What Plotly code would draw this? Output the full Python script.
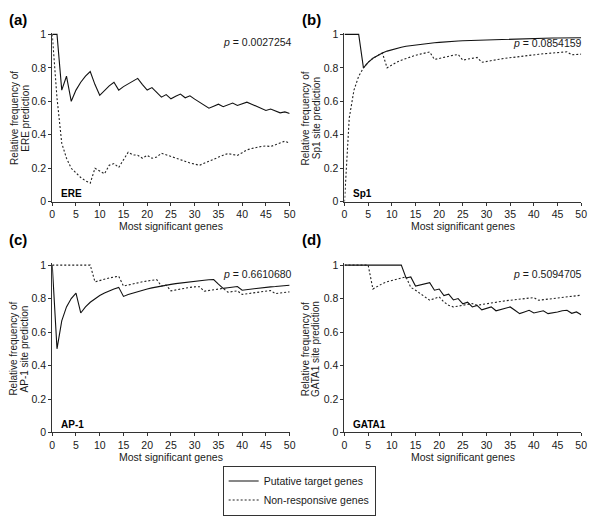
import plotly.graph_objects as go

# ---------------- data ----------------
GENES = [0, 1, 2, 3, 4, 5, 6, 7, 8, 9, 10, 11, 12, 13, 14, 15, 16, 17, 18, 19, 20,
         21, 22, 23, 24, 25, 26, 27, 28, 29, 30, 31, 32, 33, 34, 35, 36, 37, 38, 39, 40,
         41, 42, 43, 44, 45, 46, 47, 48, 49, 50]

ERE_PUTATIVE = [1, 1, 0.667, 0.75, 0.6, 0.667, 0.714, 0.75, 0.778, 0.7, 0.636,
                0.667, 0.692, 0.714, 0.667, 0.688, 0.706, 0.722, 0.737, 0.7, 0.667,
                0.682, 0.652, 0.625, 0.64, 0.615, 0.63, 0.643, 0.621, 0.633, 0.613,
                0.594, 0.576, 0.559, 0.571, 0.583, 0.568, 0.579, 0.59, 0.575, 0.585,
                0.595, 0.583, 0.57, 0.557, 0.545, 0.554, 0.542, 0.531, 0.537, 0.527]
ERE_NONRESP = [1, 0.62, 0.35, 0.26, 0.2, 0.17, 0.145, 0.125, 0.111, 0.2, 0.182,
               0.167, 0.218, 0.228, 0.205, 0.25, 0.296, 0.28, 0.278, 0.26, 0.277,
               0.26, 0.267, 0.29, 0.28, 0.27, 0.26, 0.25, 0.24, 0.232, 0.225,
               0.218, 0.23, 0.242, 0.255, 0.27, 0.278, 0.288, 0.283, 0.277, 0.293,
               0.31, 0.318, 0.325, 0.33, 0.333, 0.33, 0.34, 0.35, 0.362, 0.351]

SP1_PUTATIVE = [1, 1, 1, 1, 0.8, 0.833, 0.857, 0.875, 0.889, 0.9, 0.909,
                0.917, 0.923, 0.929, 0.933, 0.938, 0.941, 0.944, 0.947, 0.95, 0.952,
                0.955, 0.957, 0.958, 0.96, 0.962, 0.963, 0.964, 0.966, 0.967, 0.968,
                0.969, 0.97, 0.971, 0.971, 0.972, 0.973, 0.974, 0.974, 0.975, 0.976,
                0.976, 0.977, 0.977, 0.978, 0.978, 0.979, 0.979, 0.98, 0.98, 0.98]
SP1_NONRESP = [0, 0.5, 0.667, 0.75, 0.8, 0.833, 0.857, 0.875, 0.889, 0.8, 0.818,
               0.833, 0.846, 0.857, 0.867, 0.875, 0.882, 0.889, 0.895, 0.85, 0.857,
               0.864, 0.87, 0.875, 0.88, 0.846, 0.852, 0.857, 0.862, 0.833, 0.839,
               0.844, 0.848, 0.853, 0.857, 0.861, 0.865, 0.868, 0.872, 0.875, 0.878,
               0.881, 0.884, 0.886, 0.889, 0.891, 0.894, 0.896, 0.878, 0.88, 0.882]

AP1_PUTATIVE = [1, 0.5, 0.667, 0.75, 0.8, 0.833, 0.714, 0.75, 0.778, 0.8, 0.818,
                0.833, 0.846, 0.857, 0.867, 0.813, 0.824, 0.833, 0.842, 0.85, 0.857,
                0.864, 0.87, 0.875, 0.88, 0.885, 0.889, 0.893, 0.897, 0.9, 0.903,
                0.906, 0.909, 0.912, 0.914, 0.886, 0.861, 0.865, 0.868, 0.872, 0.85,
                0.854, 0.857, 0.86, 0.864, 0.867, 0.87, 0.872, 0.875, 0.878, 0.88]
AP1_NONRESP = [1, 1, 1, 1, 1, 1, 1, 1, 1, 0.9, 0.909,
               0.917, 0.923, 0.929, 0.933, 0.875, 0.882, 0.889, 0.895, 0.9, 0.905,
               0.909, 0.913, 0.875, 0.88, 0.846, 0.852, 0.857, 0.862, 0.867, 0.87,
               0.871, 0.844, 0.848, 0.853, 0.857, 0.861, 0.838, 0.842, 0.846, 0.825,
               0.829, 0.833, 0.837, 0.841, 0.844, 0.848, 0.83, 0.833, 0.837, 0.84]

GATA1_PUTATIVE = [1, 1, 1, 1, 1, 1, 1, 1, 1, 1, 1,
                  1, 1, 0.923, 0.929, 0.875, 0.882, 0.889, 0.895, 0.85, 0.857,
                  0.818, 0.826, 0.792, 0.8, 0.769, 0.778, 0.75, 0.759, 0.733, 0.742,
                  0.75, 0.727, 0.735, 0.743, 0.75, 0.73, 0.71, 0.72, 0.73, 0.714,
                  0.72, 0.727, 0.71, 0.714, 0.72, 0.727, 0.73, 0.712, 0.72, 0.703]
GATA1_NONRESP = [1, 1, 1, 1, 1, 1, 0.857, 0.875, 0.889, 0.9, 0.909,
                 0.917, 0.923, 0.929, 0.867, 0.85, 0.83, 0.81, 0.79, 0.8, 0.81,
                 0.78, 0.76, 0.75, 0.756, 0.76, 0.765, 0.77, 0.76, 0.765, 0.77,
                 0.775, 0.78, 0.783, 0.787, 0.79, 0.793, 0.796, 0.8, 0.803, 0.806,
                 0.79, 0.793, 0.796, 0.8, 0.803, 0.806, 0.81, 0.812, 0.815, 0.82]

PANEL_LETTERS = ["(a)", "(b)", "(c)", "(d)"]
FACTORS = ["ERE", "Sp1", "AP-1", "GATA1"]
YTITLE_LINE2 = ["ERE prediction", "Sp1 site prediction",
                "AP-1 site prediction", "GATA1 site prediction"]
P_VALUES = ["0.0027254", "0.0854159", "0.6610680", "0.5094705"]
SERIES_NAMES = ["Putative target genes", "Non-responsive genes"]
X_TICKS = [0, 5, 10, 15, 20, 25, 30, 35, 40, 45, 50]
Y_TICKS = [0, 0.2, 0.4, 0.6, 0.8, 1]

PUTATIVE = [ERE_PUTATIVE, SP1_PUTATIVE, AP1_PUTATIVE, GATA1_PUTATIVE]
NONRESP = [ERE_NONRESP, SP1_NONRESP, AP1_NONRESP, GATA1_NONRESP]

# ---------------- layout helpers ----------------
W, H = 600, 521
FONT = "Liberation Sans, Arial, Helvetica, sans-serif"
INK = "#1a1a1a"

def px(x):
    return x / W

def py(y):
    return 1 - y / H

# panel geometry in pixels: (x0, x50, y0_pix, y1_pix)
PANELS = [
    (50, 291, 201, 30),
    (346.7, 587, 201, 30),
    (50, 291, 436.7, 265.7),
    (346.7, 587, 436.7, 265.7),
]
YMAX = 1.01

fig = go.Figure()
layout = dict(
    width=W, height=H,
    margin=dict(l=0, r=0, t=0, b=0),
    paper_bgcolor="white", plot_bgcolor="white",
    font=dict(family=FONT, size=10.5, color=INK),
    showlegend=True,
    legend=dict(
        x=px(223), y=py(496), xanchor="left", yanchor="middle",
        bordercolor="#333", borderwidth=1, bgcolor="white",
        font=dict(size=10.5, family=FONT, color=INK),
        tracegroupgap=0, itemwidth=30,
    ),
)

annotations = []
for i in range(4):
    x0p, x50p, y0p, y1p = PANELS[i]
    unit = (y0p - y1p)
    ytop = y0p - unit * YMAX
    sfx = "" if i == 0 else str(i + 1)
    layout["xaxis" + sfx] = dict(
        domain=[px(x0p), px(x50p)], range=[0, 50], anchor="y" + sfx,
        showline=True, linecolor="#333", linewidth=1,
        ticks="outside", ticklen=3, tickcolor="#333", tickwidth=1,
        tickvals=X_TICKS, showgrid=False, zeroline=False,
        tickfont=dict(size=10.5, family=FONT, color=INK),
    )
    layout["yaxis" + sfx] = dict(
        domain=[py(y0p), py(ytop)], range=[0, YMAX], anchor="x" + sfx,
        showline=True, linecolor="#333", linewidth=1,
        ticks="outside", ticklen=3, tickcolor="#333", tickwidth=1,
        tickvals=Y_TICKS, ticktext=["0", "0.2", "0.4", "0.6", "0.8", "1"],
        showgrid=False, zeroline=False,
        tickfont=dict(size=10.5, family=FONT, color=INK),
    )

    fig.add_trace(go.Scatter(
        x=GENES, y=PUTATIVE[i], mode="lines", name=SERIES_NAMES[0],
        line=dict(color="#111", width=1.1), legendgroup="put",
        showlegend=(i == 0), xaxis="x" + sfx, yaxis="y" + sfx,
    ))
    fig.add_trace(go.Scatter(
        x=GENES, y=NONRESP[i], mode="lines", name=SERIES_NAMES[1],
        line=dict(color="#222", width=1.1, dash="2px,2px"), legendgroup="non",
        showlegend=(i == 0), xaxis="x" + sfx, yaxis="y" + sfx,
    ))

    left_col = (i % 2 == 0)
    # panel letter
    annotations.append(dict(
        text="<b>%s</b>" % PANEL_LETTERS[i], xref="paper", yref="paper",
        x=px(4 if left_col else 302), y=py(15 if i < 2 else 240),
        xanchor="left", yanchor="middle", showarrow=False,
        font=dict(size=15, family=FONT, color="#000"),
    ))
    # p value
    annotations.append(dict(
        text="<i>p</i> = %s" % P_VALUES[i], xref="paper", yref="paper",
        x=px(295 if left_col else 590),
        y=py((38 if i == 0 else 39) if i < 2 else 275),
        xanchor="right", yanchor="middle", showarrow=False,
        font=dict(size=10.5, family=FONT, color=INK),
    ))
    # factor label
    annotations.append(dict(
        text="<b>%s</b>" % FACTORS[i], xref="paper", yref="paper",
        x=px(x0p + 7), y=py(y0p - 8),
        xanchor="left", yanchor="middle", showarrow=False,
        font=dict(size=10, family=FONT, color="#000"),
    ))
    # x title
    annotations.append(dict(
        text="Most significant genes", xref="paper", yref="paper",
        x=px((x0p + x50p) / 2), y=py(y0p + 25),
        xanchor="center", yanchor="middle", showarrow=False,
        font=dict(size=10.5, family=FONT, color=INK),
    ))
    # y title (two lines)
    ycen = (y0p + y1p) / 2
    base = 0 if left_col else 296
    annotations.append(dict(
        text="Relative frequency of", xref="paper", yref="paper",
        x=px(base + 11), y=py(ycen), textangle=-90,
        xanchor="center", yanchor="middle", showarrow=False,
        font=dict(size=10, family=FONT, color=INK),
    ))
    annotations.append(dict(
        text=YTITLE_LINE2[i], xref="paper", yref="paper",
        x=px(base + 22), y=py(ycen), textangle=-90,
        xanchor="center", yanchor="middle", showarrow=False,
        font=dict(size=10, family=FONT, color=INK),
    ))

layout["annotations"] = annotations
fig.update_layout(**layout)
fig.write_html("out.html", config={"displayModeBar": False},
               post_script="document.body.style.margin='0';")
